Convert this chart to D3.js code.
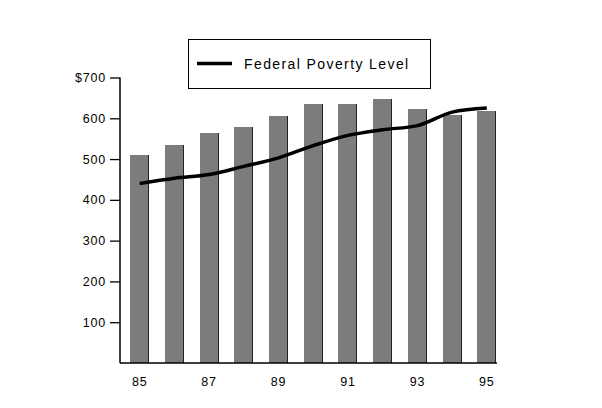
<!DOCTYPE html>
<html><head><meta charset="utf-8">
<script src="https://cdn.jsdelivr.net/npm/d3@7"></script>
<style>body{margin:0;background:#fff}svg{display:block}text{font-family:"Liberation Sans",Arial,sans-serif;fill:#000}</style>
</head><body><svg id="c" width="602" height="408"></svg>
<script>
const years = ["85","86","87","88","89","90","91","92","93","94","95"];
const barValues = [509,535,565,578,606,634,634,648,623,607,617];
const povertyLevel = [440,453,462,482,503,533,558,572,582,615,625];
const yTicks = [100,200,300,400,500,600,700];
const xLabels = ["85","87","89","91","93","95"];
const legendLabel = "Federal Poverty Level";

const svg = d3.select("#c");

const x = d3.scaleBand().domain(years).range([122.5,504]).paddingInner(0.45).paddingOuter(0.22);
const y = d3.scaleLinear().domain([0,700]).range([363,77.5]);

// bars
svg.append("g").attr("shape-rendering","crispEdges").selectAll("rect").data(barValues).join("rect")
  .attr("x",(d,i)=>Math.round(x(years[i]))).attr("y",d=>Math.round(y(d)))
  .attr("width",Math.round(x.bandwidth())).attr("height",d=>Math.round(y(0))-Math.round(y(d)))
  .attr("fill","#7c7c7c");
svg.append("g").attr("shape-rendering","crispEdges").selectAll("line").data(barValues).join("line")
  .attr("x1",(d,i)=>Math.round(x(years[i]))+Math.round(x.bandwidth())-0.5)
  .attr("x2",(d,i)=>Math.round(x(years[i]))+Math.round(x.bandwidth())-0.5)
  .attr("y1",d=>Math.round(y(d))).attr("y2",y(0))
  .attr("stroke","#222").attr("stroke-width",1);

// y axis
const yAxis = d3.axisLeft(y).tickValues(yTicks).tickSize(10).tickPadding(4)
  .tickFormat(d=> d===700 ? "$700" : d);
const gy = svg.append("g").attr("transform","translate(120,0)").call(yAxis);
gy.select(".domain").attr("d","M0,77.5V363").attr("stroke","#000").attr("stroke-width",1.5);
gy.selectAll(".tick line").attr("stroke","#000").attr("stroke-width",1.3);
gy.selectAll(".tick text").attr("font-size",12.5).attr("letter-spacing","0.8px").attr("font-family","Liberation Sans, Arial, sans-serif");

// baseline
svg.append("line").attr("x1",120).attr("x2",497).attr("y1",y(0)).attr("y2",y(0)).attr("stroke","#000").attr("stroke-width",1.5);

// x labels
const xAxis = d3.axisBottom(x).tickValues(xLabels).tickSize(0).tickPadding(14);
const gx = svg.append("g").attr("transform",`translate(0,${y(0)})`).call(xAxis);
gx.select(".domain").remove();
gx.selectAll(".tick text").attr("font-size",12.5).attr("letter-spacing","0.8px").attr("font-family","Liberation Sans, Arial, sans-serif");

// line
const line = d3.line().x((d,i)=>x(years[i])+x.bandwidth()/2).y(d=>y(d)).curve(d3.curveMonotoneX);
svg.append("path").datum(povertyLevel).attr("d",line).attr("fill","none").attr("stroke","#000").attr("stroke-width",3.5);

// legend
const lg = svg.append("g");
lg.append("rect").attr("x",188.5).attr("y",39.5).attr("width",242).attr("height",49).attr("fill","#fff").attr("stroke","#000").attr("stroke-width",1);
lg.append("line").attr("x1",197).attr("x2",232).attr("y1",63.5).attr("y2",63.5).attr("stroke","#000").attr("stroke-width",3.5);
lg.append("text").attr("x",244).attr("y",68.5).attr("font-size",14).attr("letter-spacing","1.4px").text(legendLabel);
</script></body></html>
